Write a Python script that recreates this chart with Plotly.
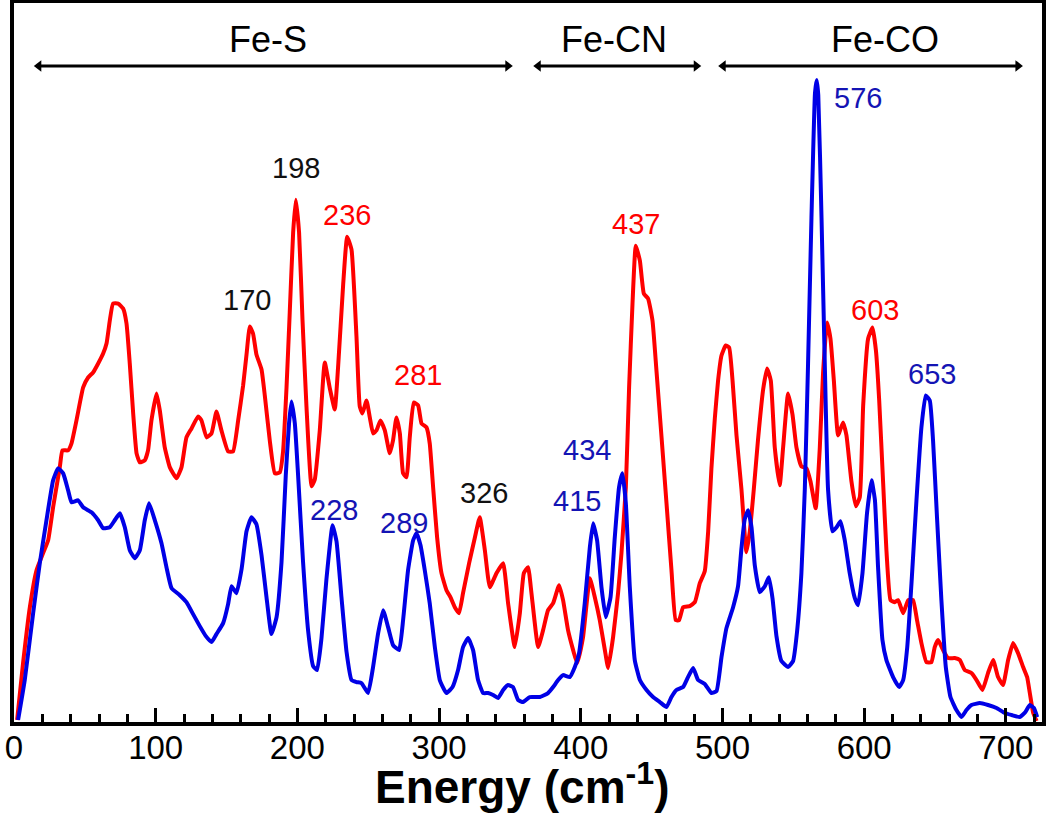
import plotly.graph_objects as go

# ---------------- data ----------------
red_energy = [2.2, 6.4, 11.2, 15.9, 20.5, 24.1, 27.6, 32.3, 34.2, 38.2, 40.6, 44.1, 48.8, 52.3, 55.8, 59.4,
              62.9, 65.3, 67.6, 69.9, 73.5, 77.0, 79.4, 81.7, 84.1, 86.5, 88.8, 92.3, 94.6, 97.0, 100.6,
              102.9, 106.4, 110.0, 114.7, 118.2, 121.7, 125.3, 129.9, 132.3, 135.9, 139.4, 142.9, 146.4,
              151.1, 154.6, 158.2, 161.7, 164.1, 166.4, 168.7, 171.1, 174.7, 177.0, 180.5, 184.1, 187.6,
              189.9, 192.3, 194.6, 197.0, 198.9, 201.2, 203.6, 206.4, 210.0, 212.3, 215.8, 219.3, 222.9,
              226.4, 228.7, 232.3, 235.1, 238.2, 241.7, 244.0, 245.9, 248.8, 251.1, 253.4, 255.8, 258.6,
              261.7, 265.2, 267.5, 269.9, 272.3, 274.6, 277.0, 279.3, 282.1, 285.2, 287.6, 291.1, 293.4,
              295.8, 298.6, 301.7, 305.2, 308.0, 311.1, 314.1, 316.9, 321.2, 325.3, 328.7, 332.3, 335.8,
              340.5, 345.2, 348.7, 353.4, 357.0, 359.8, 362.8, 365.2, 369.9, 373.4, 376.9, 380.5, 384.7,
              387.5, 391.0, 394.6, 397.4, 401.6, 406.4, 409.9, 413.4, 417.0, 419.3, 422.8, 426.3, 428.7,
              431.8, 434.1, 436.5, 438.8, 441.7, 444.5, 447.5, 450.6, 453.4, 457.0, 460.5, 464.0, 467.0,
              469.4, 472.2, 476.9, 480.5, 484.0, 487.5, 489.9, 492.2, 494.6, 496.9, 499.3, 502.3, 504.7,
              507.1, 509.9, 513.4, 516.9, 519.3, 522.1, 525.1, 528.7, 531.5, 534.1, 536.9, 540.4, 542.8,
              546.3, 549.4, 552.2, 555.7, 559.3, 562.1, 565.8, 568.7, 571.0, 573.8, 576.2, 578.6, 581.6,
              585.1, 587.5, 591.0, 594.1, 596.9, 599.3, 602.8, 605.9, 608.3, 610.6, 613.4, 615.7, 618.6,
              621.6, 624.0, 627.5, 631.1, 634.5, 637.3, 640.4, 643.9, 647.5, 649.8, 652.2, 655.7, 659.2,
              663.9, 667.5, 671.0, 675.7, 679.3, 683.5, 687.4, 691.0, 694.5, 698.0, 701.6, 705.1, 708.6,
              712.2, 715.0, 716.9, 719.3, 721.7]
red_intensity = [2, 59, 115, 152, 169, 182, 215, 255, 272, 272, 279, 302, 335, 345, 350, 359,
                 369, 379, 402, 419, 419, 414, 399, 359, 309, 269, 260, 262, 272, 302, 329,
                 312, 275, 255, 244, 255, 285, 294, 306, 302, 285, 289, 311, 292,
                 271, 271, 302, 337, 368, 396, 389, 368, 353, 327, 282, 249, 250,
                 271, 334, 410, 490, 523, 490, 403, 316, 236, 243, 292, 360, 334,
                 313, 355, 438, 486, 473, 386, 316, 309, 322, 305, 289, 292, 302,
                 292, 269, 282, 305, 289, 249, 245, 285, 320, 317, 299, 295, 279,
                 235, 185, 149, 132, 125, 115, 109, 129, 159, 185, 205, 172, 135,
                 149, 159, 119, 75, 109, 149, 155, 129, 75, 92, 112, 119, 137,
                 122, 92, 72, 59, 85, 144, 125, 102, 72, 54, 85, 129, 169,
                 235, 335, 419, 477, 462, 429, 424, 402, 352, 285, 219, 152, 102,
                 102, 115, 116, 120, 139, 151, 191, 254, 304, 342, 367, 377, 375,
                 342, 287, 233, 170, 191, 233, 283, 333, 354, 342, 275, 237, 275,
                 329, 308, 275, 256, 254, 241, 214, 275, 350, 400, 384, 342, 287,
                 300, 287, 241, 216, 225, 317, 384, 395, 372, 322, 239, 172, 122,
                 120, 122, 109, 122, 122, 102, 79, 60, 60, 75, 82, 72, 64,
                 64, 62, 52, 49, 42, 32, 49, 62, 45, 37, 62, 79, 69,
                 55, 45, 29, 9, 1]

blue_energy = [2.9, 7.6, 13.5, 18.2, 22.9, 27.6, 31.1, 34.7, 38.2, 40.6, 45.2, 48.8, 54.7, 59.4, 62.9,
               67.6, 71.1, 74.7, 78.2, 81.7, 85.3, 88.8, 92.3, 95.3, 99.4, 104.1, 107.6, 111.2, 117.0,
               121.7, 126.4, 131.1, 135.4, 139.4, 142.9, 147.6, 151.1, 153.5, 157.0, 160.6, 164.1, 167.6,
               171.1, 174.7, 178.2, 181.7, 185.3, 188.8, 191.8, 194.1, 195.8, 198.2, 200.5, 204.0, 207.6,
               211.1, 213.9, 217.0, 220.5, 224.8, 227.6, 231.1, 234.7, 238.2, 241.7, 245.2, 249.9, 253.4,
               257.0, 260.5, 264.0, 267.5, 271.8, 274.6, 278.1, 281.7, 284.1, 286.9, 289.9, 293.4, 297.0,
               300.5, 305.2, 309.5, 313.4, 316.9, 320.5, 324.0, 327.5, 331.1, 334.6, 338.1, 341.6, 345.2,
               348.7, 352.2, 355.8, 359.3, 364.0, 371.1, 376.9, 380.5, 384.0, 387.5, 392.2, 395.8, 398.8,
               402.8, 406.4, 408.7, 411.5, 414.6, 417.6, 421.0, 424.0, 427.0, 429.4, 431.8, 434.6, 438.1,
               441.7, 446.4, 451.0, 455.8, 460.5, 464.0, 467.5, 472.2, 475.7, 479.3, 482.8, 487.5, 492.2,
               495.8, 499.3, 502.8, 507.5, 511.0, 513.4, 515.7, 518.1, 520.5, 522.8, 526.3, 529.9, 532.7,
               535.3, 538.1, 541.6, 546.3, 549.8, 552.6, 555.7, 558.1, 560.4, 562.8, 565.3, 566.5, 567.6,
               569.9, 572.2, 574.5, 577.6, 580.5, 583.3, 586.3, 589.8, 593.4, 595.7, 598.8, 602.0, 605.2,
               607.6, 609.8, 612.9, 615.7, 620.4, 624.7, 627.5, 630.4, 633.4, 636.9, 640.4, 643.4, 646.3,
               648.6, 651.4, 654.5, 657.6, 660.9, 665.1, 668.7, 672.2, 675.7, 681.6, 687.4, 693.4, 699.2,
               704.0, 709.8, 713.8, 716.9, 719.8, 722.1]
blue_intensity = [2, 42, 109, 159, 202, 242, 254, 249, 232, 220, 222, 215, 210, 202, 194,
                  195, 202, 209, 195, 172, 164, 172, 202, 219, 202, 179, 155, 134, 127,
                  120, 108, 96, 86, 80, 88, 99, 118, 136, 129, 153, 191, 205,
                  198, 167, 125, 88, 105, 160, 247, 299, 321, 299, 247, 160, 91,
                  56, 52, 84, 143, 197, 181, 125, 70, 42, 40, 39, 29, 55,
                  89, 112, 95, 77, 72, 102, 152, 182, 189, 177, 152, 119, 75,
                  42, 29, 35, 52, 75, 84, 72, 42, 29, 29, 27, 24, 32,
                  37, 35, 22, 20, 25, 25, 29, 35, 42, 47, 45, 55, 69,
                  119, 175, 199, 182, 135, 105, 125, 185, 235, 249, 219, 135, 62,
                  42, 32, 25, 20, 15, 25, 32, 35, 45, 54, 42, 38, 29,
                  31, 65, 94, 115, 136, 174, 203, 212, 195, 157, 130, 136, 145,
                  124, 86, 61, 55, 61, 90, 149, 233, 359, 505, 630, 643, 628,
                  505, 359, 233, 191, 195, 201, 182, 149, 124, 117, 149, 209, 242,
                  222, 155, 82, 62, 45, 35, 42, 75, 139, 222, 295, 327, 322,
                  282, 205, 122, 55, 25, 12, 5, 12, 17, 19, 17, 14, 9,
                  7, 5, 10, 17, 14, 5]

assert len(red_energy) == len(red_intensity), (len(red_energy), len(red_intensity))
assert len(blue_energy) == len(blue_intensity), (len(blue_energy), len(blue_intensity))

# peak labels
peak_labels = ["170", "198", "236", "281", "326", "228", "289", "415", "434", "437", "576", "603", "653"]
peak_label_x = [164.3, 198.9, 234.9, 285.3, 331.5, 226.0, 275.1, 397.5, 404.6, 438.8, 595.5, 607.5, 647.7]
peak_label_y = [423, 555, 508, 347, 229, 212, 199, 221, 272, 499, 625, 413, 348]
peak_label_colors = ["black", "black", "red", "red", "black", "blue", "blue", "blue", "blue", "red",
                     "blue", "red", "blue"]

# region brackets
region_names = ["Fe-S", "Fe-CN", "Fe-CO"]
region_start = [17.5, 370.0, 500.5]
region_end = [348.5, 481.5, 708.5]
region_label_x = [179.0, 423.3, 614.5]
region_arrow_y = 657
region_label_y = 683

tick_values = [0, 100, 200, 300, 400, 500, 600, 700]
x_title = "<b>Energy (cm<sup>-1</sup>)</b>"

# ---------------- figure ----------------
RED = "#ff0000"
BLUE = "#0000e6"
TEXT_BLUE = "#1414b4"
FONT = "Arial, 'Liberation Sans', sans-serif"
color_map = {"black": "#111111", "red": RED, "blue": TEXT_BLUE}

fig = go.Figure()
fig.add_trace(go.Scatter(x=red_energy, y=red_intensity, mode="lines",
                         line=dict(color=RED, width=4, shape="spline", smoothing=0.4),
                         showlegend=False, hoverinfo="skip"))
fig.add_trace(go.Scatter(x=blue_energy, y=blue_intensity, mode="lines",
                         line=dict(color=BLUE, width=4, shape="spline", smoothing=0.4),
                         showlegend=False, hoverinfo="skip"))

for t, x, y, c in zip(peak_labels, peak_label_x, peak_label_y, peak_label_colors):
    fig.add_annotation(x=x, y=y, xref="x", yref="y", text=t, showarrow=False,
                       font=dict(family=FONT, size=29, color=color_map[c]))

for name, x0, x1, xl in zip(region_names, region_start, region_end, region_label_x):
    fig.add_trace(go.Scatter(x=[x0, x1], y=[region_arrow_y, region_arrow_y], mode="lines+markers",
                             line=dict(color="black", width=3),
                             marker=dict(symbol=["triangle-left", "triangle-right"], size=10,
                                         color="black"),
                             showlegend=False, hoverinfo="skip"))
    fig.add_annotation(x=xl, y=region_label_y, xref="x", yref="y", text=name, showarrow=False,
                       font=dict(family=FONT, size=36, color="black"))

# axis title as a paper annotation (centred under the axis)
fig.add_annotation(x=0.494, y=-0.086, xref="paper", yref="paper", text=x_title, showarrow=False,
                   xanchor="center", yanchor="middle",
                   font=dict(family=FONT, size=46, color="black"))

fig.update_layout(
    width=1050, height=825,
    margin=dict(l=14, r=8, t=3, b=103, autoexpand=False),
    paper_bgcolor="white", plot_bgcolor="white",
    font=dict(family=FONT, color="black"),
)
fig.update_xaxes(
    range=[0, 725.5], showline=True, linecolor="black", linewidth=4, mirror=True,
    showgrid=False, zeroline=False, automargin=False,
    tickmode="array", tickvals=tick_values, ticktext=[str(v) for v in tick_values],
    ticks="inside", ticklen=14, tickwidth=3, tickcolor="black",
    minor=dict(ticks="inside", dtick=20, ticklen=8, tickwidth=3, tickcolor="black", showgrid=False),
    tickfont=dict(family=FONT, size=33, color="black"),
    ticklabelstandoff=-7,
)
fig.update_yaxes(
    range=[0, 720], showline=True, linecolor="black", linewidth=4, mirror=True,
    showgrid=False, zeroline=False, showticklabels=False, ticks="", automargin=False,
)

fig.write_html("out.html", config={"displayModeBar": False},
               post_script="document.body.style.margin='0px';")
